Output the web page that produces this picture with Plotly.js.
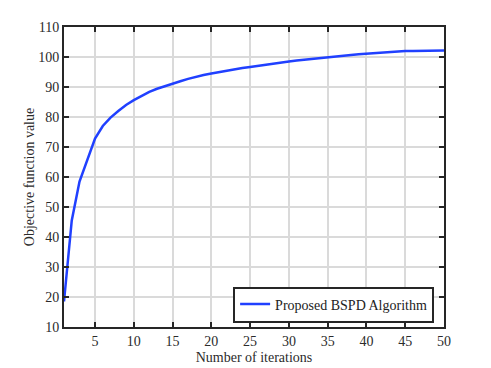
<!DOCTYPE html>
<html>
<head>
<meta charset="utf-8">
<script src="https://cdn.plot.ly/plotly-3.0.1.min.js"></script>
<style>
	html, body { margin: 0; padding: 0; background: #fff; }
	#plot { width: 491px; height: 368px; }
</style>
</head>
<body>
<div id="plot"></div>
<script>
// values
var iterations = [];
for(var i = 1; i <= 50; i++){
	iterations.push(i);
}
var objectiveValues = [
	18.5, 45.5, 58.5, 65.5, 72.8, 77.0, 79.8, 82.0, 84.0, 85.6,
	87.1, 88.4, 89.4, 90.3, 91.1, 91.9, 92.7, 93.4, 94.0, 94.5,
	95.0, 95.4, 95.9, 96.3, 96.7, 97.1, 97.4, 97.8, 98.1, 98.5,
	98.8, 99.1, 99.4, 99.7, 100.0, 100.3, 100.5, 100.7, 100.9, 101.1,
	101.3, 101.5, 101.7, 101.9, 102.0, 102.0, 102.1, 102.1, 102.2, 102.2
];
var xTicks = [5, 10, 15, 20, 25, 30, 35, 40, 45, 50];
var seriesName = 'Proposed BSPD Algorithm';

var FONT = 'Liberation Serif, Times New Roman, serif';
var AXIS_COLOR = '#262626';
var TEXT_COLOR = '#2b2b2b';
var GRID_COLOR = 'rgb(218,218,218)';

var data = [{
	x: iterations,
	y: objectiveValues,
	type: 'scatter',
	mode: 'lines',
	name: seriesName,
	line: { color: '#2040ff', width: 2.5 }
}];

var axisStyle = {
	showline: true,
	linecolor: AXIS_COLOR,
	linewidth: 2,
	mirror: 'ticks',
	ticks: 'inside',
	ticklen: 5,
	tickwidth: 2,
	tickcolor: AXIS_COLOR,
	showgrid: true,
	gridcolor: GRID_COLOR,
	gridwidth: 2,
	zeroline: false,
	tickfont: { family: FONT, size: 14, color: TEXT_COLOR }
};

var layout = {
	width: 491,
	height: 368,
	margin: { l: 64, r: 47, t: 27, b: 41 },
	paper_bgcolor: '#fff',
	plot_bgcolor: '#fff',
	font: { family: FONT, size: 14, color: TEXT_COLOR },
	xaxis: Object.assign({}, axisStyle, {
		range: [1, 50],
		tickmode: 'array',
		tickvals: xTicks,
		title: { text: 'Number of iterations', font: { family: FONT, size: 14, color: TEXT_COLOR }, standoff: 4 }
	}),
	yaxis: Object.assign({}, axisStyle, {
		range: [10, 110],
		tickmode: 'linear',
		tick0: 10,
		dtick: 10,
		title: { text: 'Objective function value', font: { family: FONT, size: 14, color: TEXT_COLOR }, standoff: 0 }
	}),
	showlegend: true,
	legend: {
		x: 0.974,
		y: 0.075,
		xanchor: 'right',
		yanchor: 'middle',
		bgcolor: '#fff',
		bordercolor: AXIS_COLOR,
		borderwidth: 2,
		font: { family: FONT, size: 14, color: '#222' },
		tracegroupgap: 0
	}
};

Plotly.newPlot('plot', data, layout, { displayModeBar: false });
</script>
</body>
</html>
